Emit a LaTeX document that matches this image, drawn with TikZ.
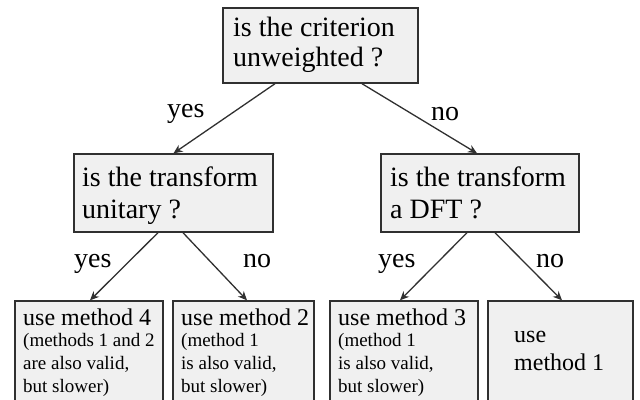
\documentclass[tikz,border=0pt]{standalone}
\usepackage{fontspec}
\setmainfont{Liberation Serif}
\usetikzlibrary{arrows.meta}
\definecolor{boxfill}{HTML}{F0F0F0}
\definecolor{ink}{HTML}{303030}
\tikzset{
  box/.style={draw=ink, line width=1.4pt, fill=boxfill, rectangle, inner sep=0pt},
  bigtext/.style={font=\fontsize{28}{30}\selectfont, inner sep=0pt, anchor=base west, align=left, text=black},
  midtext/.style={font=\fontsize{28}{32}\selectfont, inner sep=0pt, anchor=base west, align=left, text=black},
  headtext/.style={font=\fontsize{24}{28}\selectfont, inner sep=0pt, anchor=base west, align=left, text=black},
  smalltext/.style={font=\fontsize{19}{23}\selectfont, inner sep=0pt, anchor=base west, align=left, text=black},
  arr/.style={draw=ink, line width=1.3pt, -{Stealth[length=9pt,width=8pt]}},
}
\begin{document}
\begin{tikzpicture}[x=1pt,y=-1pt]
\clip (0,0) rectangle (640,399);
\fill[white] (0,0) rectangle (640,399);
% boxes
\node[box, minimum width=195pt, minimum height=75pt] (top) at (320.5,45.5) {};
\node[box, minimum width=199pt, minimum height=78pt] (ml) at (173.5,193) {};
\node[box, minimum width=198pt, minimum height=78pt] (mr) at (480,193) {};
\node[box, minimum width=148pt, minimum height=119pt] (b1) at (89,360.5) {};
\node[box, minimum width=141pt, minimum height=119pt] (b2) at (243.5,360.5) {};
\node[box, minimum width=148pt, minimum height=119pt] (b3) at (404,360.5) {};
\node[box, minimum width=145pt, minimum height=119pt] (b4) at (560.5,360.5) {};
% texts (anchor is baseline of the last line)
\node[bigtext] (ttop) at (233,66) {is the criterion\\unweighted ?};
\node[midtext] (tml) at (82,218) {is the transform\\unitary ?};
\node[midtext] (tmr) at (390,218) {is the transform\\a DFT ?};
\node[headtext] (h1) at (23,325) {use method 4};
\node[smalltext] (s1) at (23,392) {(methods 1 and 2\\are also valid,\\but slower)};
\node[headtext] (h2) at (181,325) {use method 2};
\node[smalltext] (s2) at (181,392) {(method 1\\is also valid,\\but slower)};
\node[headtext] (h3) at (338,325) {use method 3};
\node[smalltext] (s3) at (338,392) {(method 1\\is also valid,\\but slower)};
\node[headtext] (h4) at (514,370) {use\\method 1};
% labels
\node[bigtext] (ly1) at (167,117) {yes};
\node[bigtext] (ln1) at (431,120) {no};
\node[bigtext] (ly2) at (74,267) {yes};
\node[bigtext] (ln2) at (243,267) {no};
\node[bigtext] (ly3) at (378,267) {yes};
\node[bigtext] (ln3) at (536,267) {no};
% connectors
\draw[arr] ([xshift=-45.5pt]top.south) -- (ml.north);
\draw[arr] ([xshift=41.5pt]top.south) -- ([xshift=-3pt]mr.north);
\draw[arr] ([xshift=-15.5pt]ml.south) -- ([xshift=1pt]b1.north);
\draw[arr] ([xshift=9.5pt]ml.south) -- ([xshift=3.5pt]b2.north);
\draw[arr] ([xshift=-13pt]mr.south) -- ([xshift=-4pt]b3.north);
\draw[arr] ([xshift=15pt]mr.south) -- ([xshift=1.5pt]b4.north);
\end{tikzpicture}
\end{document}
